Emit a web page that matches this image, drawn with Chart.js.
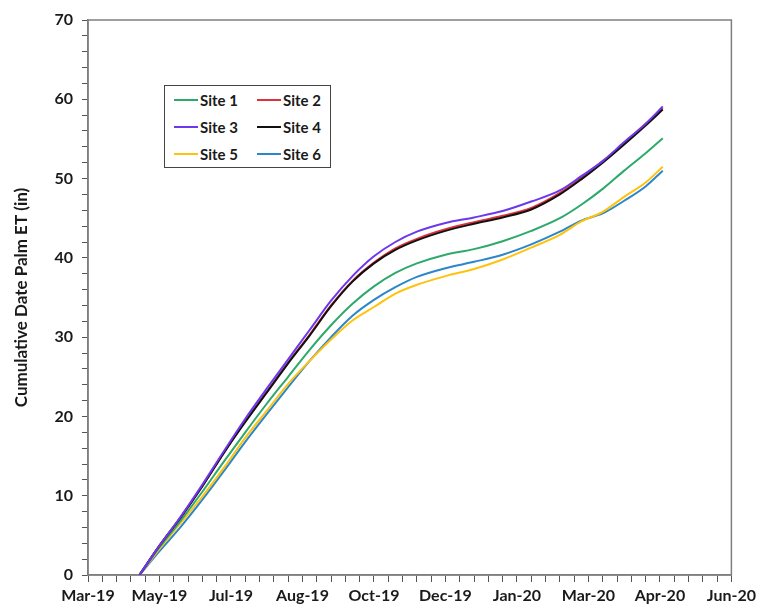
<!DOCTYPE html>
<html lang="en">
<head>
  <meta charset="UTF-8">
  <title>Cumulative Date Palm ET</title>
  <script src="https://cdn.jsdelivr.net/npm/chart.js"></script>
  <style>
    body {
      margin: 0;
      background: white;
      font-family: Lato, "Open Sans", sans-serif;
    }

    .wrap {
      position: relative;
      width: 760px;
      height: 606px;
    }

    .leyenda {
      position: absolute;
      left: 164px;
      top: 85px;
      width: 167px;
      height: 83px;
      box-sizing: border-box;
      border: 1.5px solid #444;
      background: white;
    }

    .item {
      position: absolute;
      height: 18px;
      display: flex;
      align-items: center;
      font-weight: bold;
      font-size: 15px;
      color: #1a1a1a;
    }

    .item span.linea {
      display: inline-block;
      width: 24px;
      height: 2px;
      margin-right: 2px;
    }
  </style>
</head>
<body>
  <div class="wrap">
    <canvas id="grafico" width="760" height="606"></canvas>
    <div class="leyenda" id="leyenda"></div>
  </div>

  <script>
    // days counted from the start of the x axis (Mar-19)
    const days = [36, 50, 65, 80, 95, 110, 125, 140, 155, 170, 185, 200, 215, 230, 250, 270, 290, 310, 330, 345, 360, 375, 390, 402];

    const site1 = [0, 3.5, 6.9, 10.5, 14.3, 18.0, 21.6, 25.0, 28.4, 31.5, 34.2, 36.4, 38.1, 39.3, 40.4, 41.1, 42.1, 43.4, 45.0, 46.7, 48.7, 51.0, 53.2, 55.1];
    const site2 = [0, 3.7, 7.3, 11.2, 15.4, 19.4, 23.1, 26.8, 30.3, 34.0, 37.1, 39.4, 41.2, 42.4, 43.6, 44.5, 45.3, 46.3, 48.2, 50.1, 52.2, 54.5, 56.9, 58.9];
    const site3 = [0, 3.7, 7.4, 11.4, 15.6, 19.7, 23.5, 27.2, 30.9, 34.6, 37.7, 40.2, 42.0, 43.3, 44.4, 45.1, 45.9, 47.1, 48.5, 50.3, 52.2, 54.6, 56.9, 59.1];
    const site4 = [0, 3.7, 7.3, 11.2, 15.4, 19.3, 23.0, 26.7, 30.2, 33.9, 37.0, 39.3, 41.0, 42.2, 43.4, 44.3, 45.1, 46.1, 48.0, 49.9, 52.0, 54.3, 56.7, 58.7];
    const site5 = [0, 3.3, 6.6, 9.9, 13.5, 17.3, 20.7, 24.1, 27.0, 29.7, 32.1, 33.8, 35.5, 36.6, 37.7, 38.6, 39.8, 41.3, 42.9, 44.6, 45.8, 47.7, 49.5, 51.5];
    const site6 = [0, 3.0, 6.1, 9.5, 13.1, 16.8, 20.3, 23.7, 27.0, 30.0, 32.7, 34.7, 36.3, 37.6, 38.7, 39.5, 40.4, 41.7, 43.3, 44.7, 45.6, 47.2, 49.0, 51.0];

    const siteNames = ['Site 1', 'Site 2', 'Site 3', 'Site 4', 'Site 5', 'Site 6'];
    const xTickLabels = ['Mar-19', 'May-19', 'Jul-19', 'Aug-19', 'Oct-19', 'Dec-19', 'Jan-20', 'Mar-20', 'Apr-20', 'Jun-20'];

    const colores = ['#2ea96c', '#e0313b', '#6b38ec', '#111111', '#ffc20e', '#2b87c9'];
    const orden = [4, 3, 1, 2, 5, 6];
    const series = [site1, site2, site3, site4, site5, site6];

    function puntos(vals) {
      return days.map((d, i) => ({ x: d, y: vals[i] }));
    }

    const datasets = series.map((vals, i) => ({
      label: siteNames[i],
      data: puntos(vals),
      borderColor: colores[i],
      borderWidth: 2,
      pointRadius: 0,
      cubicInterpolationMode: 'monotone',
      fill: false,
      order: orden[i]
    }));

    // frame around the plot area
    const marco = {
      id: 'marco',
      beforeDatasetsDraw(chart) {
        const a = chart.chartArea;
        const ctx = chart.ctx;
        ctx.save();
        ctx.strokeStyle = '#7f7f7f';
        ctx.lineWidth = 1.5;
        ctx.strokeRect(a.left, a.top, a.right - a.left, a.bottom - a.top);
        ctx.restore();
      }
    };

    const fuente = { family: 'Lato, "Open Sans", sans-serif', weight: 'bold', size: 16 };

    new Chart(document.getElementById('grafico').getContext('2d'), {
      type: 'line',
      data: { datasets: datasets },
      options: {
        responsive: false,
        animation: false,
        layout: { padding: { left: 0, right: 27, top: 20, bottom: 0 } },
        plugins: {
          legend: { display: false },
          tooltip: { enabled: false }
        },
        scales: {
          x: {
            type: 'linear',
            min: 0,
            max: 450,
            afterFit(s) { s.height = 31; },
            border: { display: true, color: '#7f7f7f', width: 1.5 },
            grid: { drawOnChartArea: false, drawTicks: true, tickLength: 7, color: '#555' },
            ticks: {
              stepSize: 10,
              autoSkip: false,
              maxRotation: 0,
              padding: 4,
              color: '#1a1a1a',
              font: fuente,
              callback: v => (v % 50 === 0 ? xTickLabels[v / 50] : '')
            }
          },
          y: {
            min: 0,
            max: 70,
            afterFit(s) { s.width = 88; },
            border: { display: true, color: '#7f7f7f', width: 1.5 },
            grid: { drawOnChartArea: false, drawTicks: true, tickLength: 6, color: '#555' },
            ticks: {
              stepSize: 2,
              autoSkip: false,
              padding: 9,
              color: '#1a1a1a',
              font: fuente,
              callback: v => (v % 10 === 0 ? v : '')
            },
            title: {
              display: true,
              text: 'Cumulative Date Palm ET (in)',
              color: '#1a1a1a',
              font: { family: 'Lato, "Open Sans", sans-serif', weight: 'bold', size: 17 },
              padding: { top: 11, bottom: 0 }
            }
          }
        }
      },
      plugins: [marco]
    });

    // legend box, two columns
    const leyenda = document.getElementById('leyenda');
    siteNames.forEach((nombre, i) => {
      const div = document.createElement('div');
      div.className = 'item';
      div.style.left = (i % 2 === 0 ? 9 : 92) + 'px';
      div.style.top = (5 + Math.floor(i / 2) * 27) + 'px';
      div.innerHTML = '<span class="linea" style="background:' + colores[i] + '"></span>' + nombre;
      leyenda.appendChild(div);
    });
  </script>
</body>
</html>
